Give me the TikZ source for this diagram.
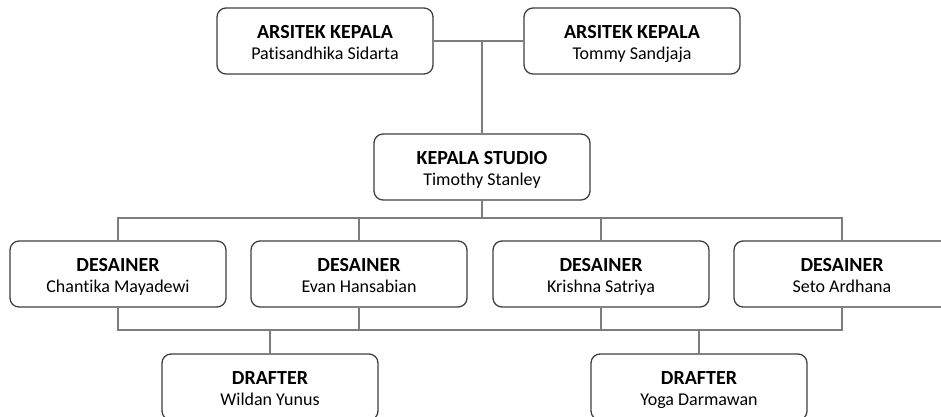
\documentclass[tikz,border=0pt]{standalone}
\usepackage{fontspec}
\setmainfont{Carlito}[Ligatures={NoCommon}]
\usepackage{tikz}
\usetikzlibrary{positioning, calc}

\definecolor{garisbox}{RGB}{64, 64, 64}
\definecolor{garishub}{RGB}{125, 125, 125}

\tikzset{
  jabatan/.style={draw=garisbox, line width=1.3pt, rounded corners=9pt, fill=white,
    minimum width=216pt, minimum height=66pt, align=center, inner sep=2pt,
    text height=39pt, text depth=2pt, font=\fontsize{18}{21}\selectfont},
  hubung/.style={draw=garishub, line width=1.1pt}
}
\newcommand{\posisi}[2]{{\fontsize{20}{21}\selectfont\bfseries #1}\\#2}

\begin{document}
\begin{tikzpicture}[x=1pt, y=1pt]
  \useasboundingbox[fill=white] (0,0) rectangle (941,-417);

  % Arsitek kepala
  \node[jabatan] (ars1) at (325, -41) {\posisi{ARSITEK KEPALA}{Patisandhika Sidarta}};
  \node[jabatan] (ars2) at (632, -41) {\posisi{ARSITEK KEPALA}{Tommy Sandjaja}};

  % Kepala studio
  \node[jabatan] (studio) at (482, -167) {\posisi{KEPALA STUDIO}{Timothy Stanley}};

  % Desainer
  \node[jabatan] (des1) at (118, -274) {\posisi{DESAINER}{Chantika Mayadewi}};
  \node[jabatan] (des2) at (359, -274) {\posisi{DESAINER}{Evan Hansabian}};
  \node[jabatan] (des3) at (601, -274) {\posisi{DESAINER}{Krishna Satriya}};
  \node[jabatan] (des4) at (842, -274) {\posisi{DESAINER}{Seto Ardhana}};

  % Drafter
  \node[jabatan] (draf1) at (270, -387) {\posisi{DRAFTER}{Wildan Yunus}};
  \node[jabatan] (draf2) at (699, -387) {\posisi{DRAFTER}{Yoga Darmawan}};

  % Garis hubung
  \coordinate (busatas) at (0, -218);
  \coordinate (busbawah) at (0, -330);
  \draw[hubung] (ars1.east) -- (ars2.west);
  \draw[hubung] (studio.north) -- (studio.north |- ars1.east);
  \draw[hubung] (studio.south) -- (studio.south |- busatas);
  \draw[hubung] (des1.north) |- (des4.north |- busatas) -- (des4.north);
  \draw[hubung] (des2.north) -- (des2.north |- busatas);
  \draw[hubung] (des3.north) -- (des3.north |- busatas);
  \draw[hubung] (des1.south) |- (des4.south |- busbawah) -- (des4.south);
  \draw[hubung] (des2.south) -- (des2.south |- busbawah);
  \draw[hubung] (des3.south) -- (des3.south |- busbawah);
  \draw[hubung] (draf1.north) -- (draf1.north |- busbawah);
  \draw[hubung] (draf2.north) -- (draf2.north |- busbawah);
\end{tikzpicture}
\end{document}
